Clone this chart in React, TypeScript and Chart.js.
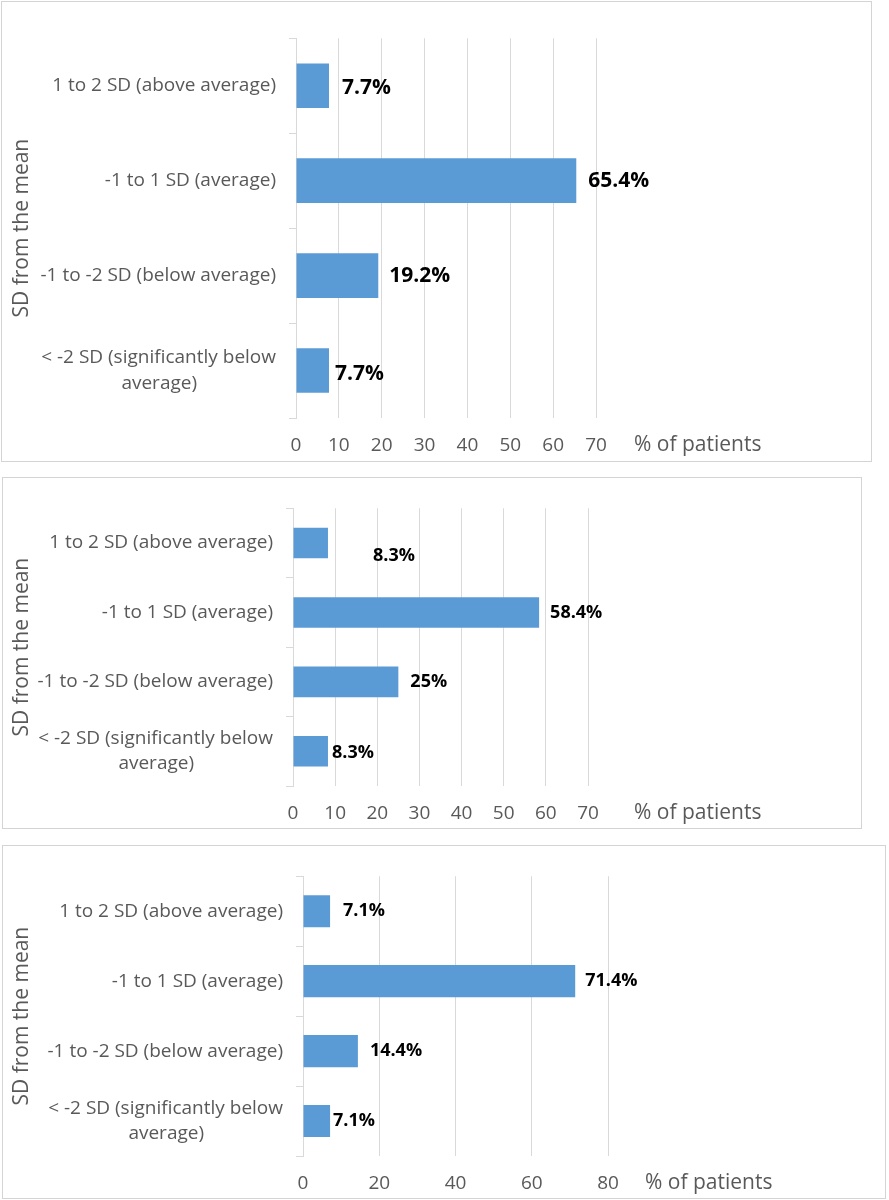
import React, { useEffect, useRef } from "react";
import { Chart, registerables } from "chart.js";

Chart.register(...registerables);

// ---------- data ----------
const categories: (string | string[])[] = [
  "1 to 2 SD (above average)",
  "-1 to 1 SD (average)",
  "-1 to -2 SD (below average)",
  ["< -2 SD (significantly below", "average)"],
];
const panel1Values = [7.7, 65.4, 19.2, 7.7];
const panel2Values = [8.3, 58.4, 25, 8.3];
const panel3Values = [7.1, 71.4, 14.4, 7.1];
const panel1Ticks = [0, 10, 20, 30, 40, 50, 60, 70];
const panel2Ticks = [0, 10, 20, 30, 40, 50, 60, 70];
const panel3Ticks = [0, 20, 40, 60, 80];
const yTitle = "SD from the mean";
const xTitle = "% of patients";

// ---------- style ----------
const FONT = '"Open Sans", sans-serif';
const TEXT = "#595959";
const GRID = "#D9D9D9";
const BOX = "#D4D4D4";
const BAR = "#5B9BD5";
const W = 889;
const X_AXIS_H = 40;
const LABEL_GAP = 11;
const TICK_SIZE = 19;
const TITLE_SIZE = 21;

type PanelCfg = {
  values: number[];
  ticks: number[];
  top: number;
  height: number;
  box: { x: number; y: number; w: number; h: number };
  chart: { left: number; top: number; right: number; bottom: number };
  barPct: number;
  labelSize: number;
  labelShift: [number, number][];
  xTitleGap: number;
};

const panels: PanelCfg[] = [
  {
    values: panel1Values,
    ticks: panel1Ticks,
    top: 0,
    height: 470,
    box: { x: 1, y: 1, w: 870, h: 460 },
    chart: { left: 296, top: 38, right: 596, bottom: 418 },
    barPct: 0.47,
    labelSize: 21,
    labelShift: [[2, 2], [1, 0], [0, 0], [-5, 3]],
    xTitleGap: 38,
  },
  {
    values: panel2Values,
    ticks: panel2Ticks,
    top: 470,
    height: 368,
    box: { x: 2, y: 7, w: 859, h: 351 },
    chart: { left: 293, top: 26, right: 588, bottom: 316 },
    barPct: 0.44,
    labelSize: 18,
    labelShift: [[34, 13], [0, 0], [1, 0], [-7, 2]],
    xTitleGap: 46,
  },
  {
    values: panel3Values,
    ticks: panel3Ticks,
    top: 838,
    height: 362,
    box: { x: 2, y: 7, w: 883, h: 353 },
    chart: { left: 303, top: 25, right: 608, bottom: 318 },
    barPct: 0.46,
    labelSize: 18,
    labelShift: [[2, 0], [-1, 0], [1, 0], [-8, 0]],
    xTitleGap: 37,
  },
];

// centre shorter lines of a multi-line label under the longest one (right-aligned ticks)
function centreLines(label: string | string[], size: number): string | string[] {
  if (!Array.isArray(label)) return label;
  const c = document.createElement("canvas").getContext("2d")!;
  c.font = `${size}px ${FONT}`;
  const widths = label.map((l) => c.measureText(l).width);
  const maxW = Math.max(...widths);
  const sp = c.measureText("\u00A0").width || 4;
  return label.map((l, i) => {
    const n = Math.round((maxW - widths[i]) / 2 / sp);
    return l + "\u00A0".repeat(Math.max(0, n));
  });
}

function Panel({ cfg }: { cfg: PanelCfg }) {
  const ref = useRef<HTMLCanvasElement | null>(null);
  useEffect(() => {
    if (!ref.current) return;
    const labels = categories.map((l) => centreLines(l, TICK_SIZE));
    const min = cfg.ticks[0];
    const max = cfg.ticks[cfg.ticks.length - 1];
    const step = cfg.ticks[1] - cfg.ticks[0];

    const boxPlugin = {
      id: "box",
      beforeDraw(chart: any) {
        const ctx = chart.ctx;
        ctx.save();
        ctx.fillStyle = "#ffffff";
        ctx.fillRect(0, 0, chart.width, chart.height);
        ctx.strokeStyle = BOX;
        ctx.lineWidth = 1;
        ctx.strokeRect(cfg.box.x + 0.5, cfg.box.y + 0.5, cfg.box.w, cfg.box.h);
        ctx.restore();
      },
    };
    const valuePlugin = {
      id: "values",
      afterDatasetsDraw(chart: any) {
        const ctx = chart.ctx;
        const meta = chart.getDatasetMeta(0);
        ctx.save();
        ctx.font = `bold ${cfg.labelSize}px ${FONT}`;
        ctx.fillStyle = "#000000";
        ctx.textBaseline = "middle";
        ctx.textAlign = "left";
        meta.data.forEach((bar: any, i: number) => {
          const v = chart.data.datasets[0].data[i];
          const [dx, dy] = cfg.labelShift[i];
          ctx.fillText(`${v}%`, bar.x + LABEL_GAP + dx, bar.y + dy);
        });
        ctx.restore();
      },
    };
    const xTitlePlugin = {
      id: "xTitle",
      afterDraw(chart: any) {
        const ctx = chart.ctx;
        const xs = chart.scales.x;
        ctx.save();
        ctx.font = `${TITLE_SIZE}px ${FONT}`;
        ctx.fillStyle = TEXT;
        ctx.textBaseline = "middle";
        ctx.textAlign = "left";
        ctx.fillText(xTitle, chart.chartArea.right + cfg.xTitleGap, xs.top + 16 + (TICK_SIZE * 1.2) / 2);
        ctx.restore();
      },
    };

    const chart = new Chart(ref.current, {
      type: "bar",
      data: {
        labels,
        datasets: [
          {
            data: cfg.values,
            backgroundColor: BAR,
            borderWidth: 0,
            barPercentage: cfg.barPct,
            categoryPercentage: 1,
          },
        ],
      },
      options: {
        animation: false,
        responsive: false,
        indexAxis: "y",
        layout: {
          padding: {
            left: 0,
            top: cfg.chart.top,
            right: W - cfg.chart.right,
            bottom: cfg.height - cfg.chart.bottom - X_AXIS_H,
          },
        },
        plugins: { legend: { display: false }, tooltip: { enabled: false } },
        scales: {
          x: {
            type: "linear",
            min,
            max,
            ticks: { stepSize: step, color: TEXT, font: { family: FONT, size: TICK_SIZE }, padding: 16 },
            grid: { color: GRID, drawTicks: false, lineWidth: 1 },
            border: { display: false },
            afterFit: (s: any) => {
              s.height = X_AXIS_H;
            },
          },
          y: {
            type: "category",
            ticks: {
              color: TEXT,
              font: { family: FONT, size: TICK_SIZE, lineHeight: 1.33 },
              padding: 13,
              autoSkip: false,
              crossAlign: "near",
            },
            grid: { drawOnChartArea: false, drawTicks: true, tickLength: 7, color: GRID, offset: true },
            border: { display: true, color: GRID, width: 1 },
            title: {
              display: true,
              text: yTitle,
              color: TEXT,
              font: { family: FONT, size: TITLE_SIZE },
              padding: { top: 9, bottom: 0 },
            },
            afterFit: (s: any) => {
              s.width = cfg.chart.left;
            },
          },
        },
      } as any,
      plugins: [boxPlugin, valuePlugin, xTitlePlugin],
    });
    return () => chart.destroy();
  }, [cfg]);

  return (
    <canvas
      ref={ref}
      width={W}
      height={cfg.height}
      style={{ position: "absolute", left: 0, top: cfg.top, width: W, height: cfg.height, display: "block" }}
    />
  );
}

export default function App() {
  return (
    <div style={{ position: "absolute", left: 0, top: 0, width: W, height: 1200, background: "#fff" }}>
      {panels.map((p, i) => (
        <Panel key={i} cfg={p} />
      ))}
    </div>
  );
}
